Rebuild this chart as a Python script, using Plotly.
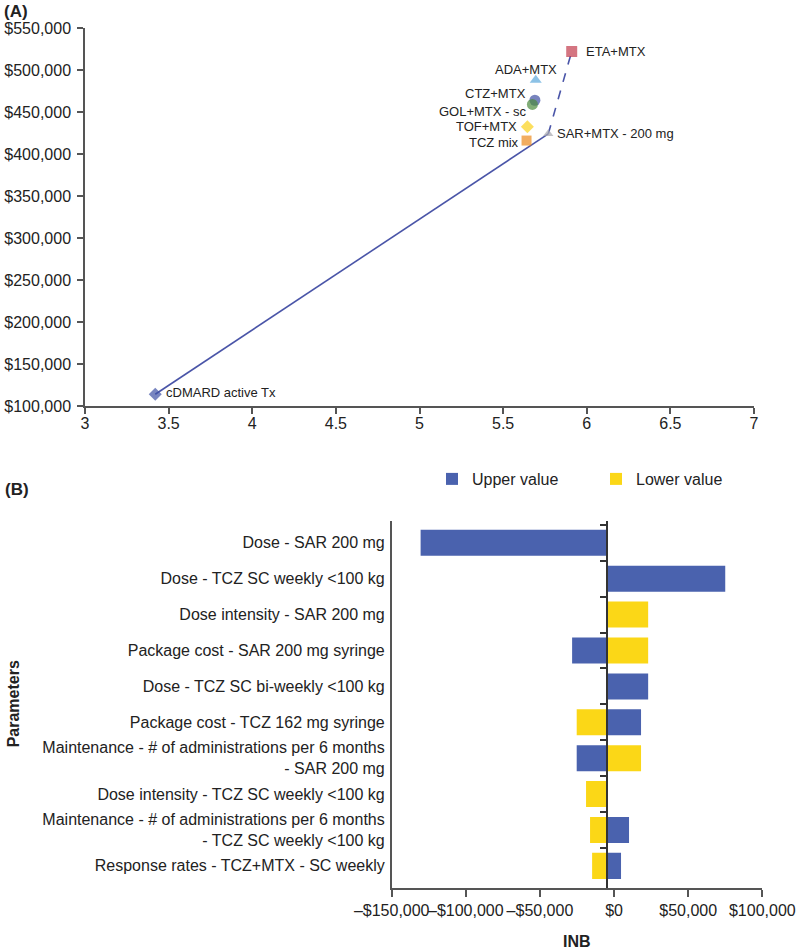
import plotly.graph_objects as go

# ---------------- Panel A data (cost vs QALY) ----------------
treatments = ["cDMARD active Tx", "TCZ mix", "TOF+MTX", "SAR+MTX - 200 mg",
              "CTZ+MTX", "GOL+MTX - sc", "ADA+MTX", "ETA+MTX"]
qalys = [3.42, 5.64, 5.645, 5.77, 5.69, 5.675, 5.695, 5.91]
costs = [114000, 416000, 432500, 424000, 464000, 459000, 488000, 522000]
frontier_solid = ["cDMARD active Tx", "SAR+MTX - 200 mg"]
frontier_dash = ["SAR+MTX - 200 mg", "ETA+MTX"]

# marker styles (per treatment, same order)
symbols = ["diamond", "square", "diamond", "triangle-up",
           "circle", "circle", "triangle-up", "square"]
colors = ["#3f51a5", "#ec8a1c", "#fbd21a", "#a6a7ae",
          "#3f50a2", "#4b8a3d", "#5ba8dc", "#c23a4b"]
sizes = [10, 10, 10, 9, 11, 11, 10.5, 11]
# label placement: (xanchor, xshift px, yshift px)
label_style = [("left", 9, 2), ("right", -6, -2), ("right", -8, 0), ("left", 7, 0),
               ("right", -7, 7), ("right", -3, -7), ("center", -10, 11), ("left", 12, 0)]

# ---------------- Panel B data (tornado, INB) ----------------
parameters = [
    "Dose - SAR 200 mg",
    "Dose - TCZ SC weekly <100 kg",
    "Dose intensity - SAR 200 mg",
    "Package cost - SAR 200 mg syringe",
    "Dose - TCZ SC bi-weekly <100 kg",
    "Package cost - TCZ 162 mg syringe",
    "Maintenance - # of administrations per 6 months<br>- SAR 200 mg",
    "Dose intensity - TCZ SC weekly <100 kg",
    "Maintenance - # of administrations per 6 months<br>- TCZ SC weekly <100 kg",
    "Response rates - TCZ+MTX - SC weekly",
]
inb_base = -5000
upper_value = [-130500, 75000, None, -28300, 23000, 18200, -25200, None, 10100, 4700]
lower_value = [None, None, 23000, 23000, None, -25200, 18200, -18900, -16200, -14800]
inb_tickvals = [-150000, -100000, -50000, 0, 50000, 100000]
inb_ticktext = ["\u2013$150,000", "\u2013$100,000", "\u2013$50,000", "$0", "$50,000", "$100,000"]

FONT = "Liberation Sans, Arial, Helvetica, sans-serif"
AXIS_COLOR = "#555555"
W, H = 797, 951

def px_x(p):
    return p / W

def px_y(p):
    return 1 - p / H

fig = go.Figure()

def pick(names):
    xs = [qalys[treatments.index(n)] for n in names]
    ys = [costs[treatments.index(n)] for n in names]
    return xs, ys

sx, sy = pick(frontier_solid)
fig.add_trace(go.Scatter(x=sx, y=sy, mode="lines", line=dict(color="#4a55a8", width=1.6),
                         showlegend=False, hoverinfo="skip", xaxis="x", yaxis="y"))
dx, dy = pick(frontier_dash)
fig.add_trace(go.Scatter(x=dx, y=dy, mode="lines", line=dict(color="#4a55a8", width=1.6, dash="dash"),
                         showlegend=False, hoverinfo="skip", xaxis="x", yaxis="y"))

fig.add_trace(go.Scatter(
    x=qalys, y=costs, mode="markers", text=treatments, hoverinfo="text",
    marker=dict(symbol=symbols, color=colors, size=sizes, line=dict(width=0)),
    showlegend=False, xaxis="x", yaxis="y"))

# tornado bars
fig.add_trace(go.Bar(
    y=parameters, x=[None if v is None else v - inb_base for v in upper_value],
    base=inb_base, orientation="h", name="Upper value",
    marker=dict(color="#4a62ae", line=dict(width=0)), xaxis="x2", yaxis="y2"))
fig.add_trace(go.Bar(
    y=parameters, x=[None if v is None else v - inb_base for v in lower_value],
    base=inb_base, orientation="h", name="Lower value",
    marker=dict(color="#fbd717", line=dict(width=0)), xaxis="x2", yaxis="y2"))

# invisible trace to carry the base-value axis
fig.add_trace(go.Scatter(y=parameters, x=[inb_base] * len(parameters), mode="markers",
                         marker=dict(opacity=0), showlegend=False, hoverinfo="skip",
                         xaxis="x2", yaxis="y3"))

xB0, xB1 = px_x(391.7), px_x(762.3)
yB0, yB1 = px_y(888), px_y(520.7)
xrange_b = [-150000, 100000]
base_pos = xB0 + (inb_base - xrange_b[0]) / (xrange_b[1] - xrange_b[0]) * (xB1 - xB0)

axis_common = dict(showline=True, linecolor=AXIS_COLOR, linewidth=1.5, showgrid=False,
                   zeroline=False, tickcolor=AXIS_COLOR, tickwidth=1.5, automargin=False,
                   tickfont=dict(family=FONT, size=16, color="#222222"))

annotations = []
for name, qx, cy, (anc, xs, ys) in zip(treatments, qalys, costs, label_style):
    annotations.append(dict(text=name, x=qx, y=cy, xref="x", yref="y", xanchor=anc,
                            yanchor="middle", xshift=xs, yshift=ys, showarrow=False,
                            font=dict(family=FONT, size=13, color="#222222")))
annotations += [
    dict(text="<b>(A)</b>", x=0.002, y=1.0, xref="paper", yref="paper",
         xanchor="left", yanchor="top", showarrow=False, font=dict(family=FONT, size=17)),
    dict(text="<b>(B)</b>", x=0.004, y=px_y(489), xref="paper", yref="paper",
         xanchor="left", yanchor="middle", showarrow=False, font=dict(family=FONT, size=17)),
    dict(text="<b>INB</b>", x=(xB0 + xB1) / 2, y=px_y(941), xref="paper", yref="paper",
         xanchor="center", yanchor="middle", showarrow=False, font=dict(family=FONT, size=16)),
    dict(text="<b>Parameters</b>", x=px_x(13), y=(yB0 + yB1) / 2, xref="paper", yref="paper",
         xanchor="center", yanchor="middle", textangle=-90, showarrow=False,
         font=dict(family=FONT, size=16)),
]

fig.update_layout(
    width=W, height=H, margin=dict(l=0, r=0, t=0, b=0, autoexpand=False),
    paper_bgcolor="white", plot_bgcolor="white",
    font=dict(family=FONT, size=16, color="#222222"),
    barmode="overlay", bargap=0.275,
    xaxis=dict(domain=[px_x(85), px_x(754)], range=[3, 7], dtick=0.5, ticks="outside",
               ticklen=6, anchor="y", tickangle=0, ticklabelstandoff=-4, **axis_common),
    yaxis=dict(domain=[px_y(406), px_y(28)], range=[100000, 550000], dtick=50000,
               tickprefix="$", tickformat=",d", ticks="outside", ticklen=6, anchor="x",
               ticklabelstandoff=3, **axis_common),
    xaxis2=dict(domain=[xB0, xB1], range=xrange_b, tickvals=inb_tickvals, ticktext=inb_ticktext,
                ticks="outside", ticklen=7, anchor="y2", tickangle=0, **axis_common),
    yaxis2=dict(domain=[yB0, yB1], autorange="reversed", type="category",
                anchor="x2", ticks="", ticklabelstandoff=2, **axis_common),
    yaxis3=dict(overlaying="y2", matches="y2", anchor="free", position=base_pos,
                type="category", autorange="reversed", showline=True, linecolor="#333333",
                linewidth=1.5, ticks="outside", tickson="boundaries", ticklen=6,
                tickcolor="#333333", tickwidth=1.5, showticklabels=False, showgrid=False,
                zeroline=False, automargin=False),
    legend=dict(orientation="h", x=px_x(432), xanchor="left", y=px_y(479), yanchor="middle",
                font=dict(family=FONT, size=16), entrywidth=119, entrywidthmode="pixels",
                bgcolor="rgba(0,0,0,0)"),
    annotations=annotations,
)

fig.write_html("out.html", config={"displayModeBar": False},
               post_script="document.body.style.margin='0';")
